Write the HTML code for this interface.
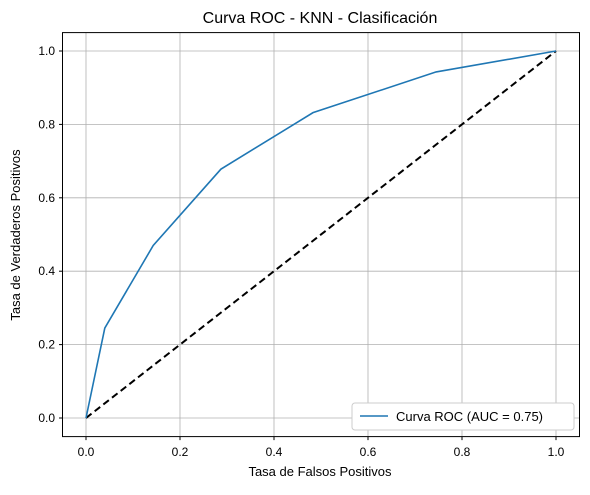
<!DOCTYPE html>
<html><head><meta charset="utf-8"><style>
body{margin:0;background:#fff;}
svg text{font-family:"Liberation Sans","DejaVu Sans",sans-serif;fill:#000;}
</style></head><body>
<svg id="chart" width="590" height="490" xmlns="http://www.w3.org/2000/svg">
<rect width="590" height="490" fill="#fff"/>
<text x="320" y="23" text-anchor="middle" font-size="16">Curva ROC - KNN - Clasificación</text>
<g id="grid"></g>
<g id="ticks"></g>
<line id="diag" stroke="#000" stroke-width="2" stroke-dasharray="7,4"/>
<path id="roc" fill="none" stroke="#1f77b4" stroke-width="1.6"/>
<rect x="62.5" y="32.6" width="517" height="404" fill="none" stroke="#000" stroke-width="1"/>
<text x="320" y="476" text-anchor="middle" font-size="13">Tasa de Falsos Positivos</text>
<text transform="translate(20,235) rotate(-90)" text-anchor="middle" font-size="13">Tasa de Verdaderos Positivos</text>
<g>
<rect x="352" y="403" width="222" height="27" rx="3" fill="#fff" stroke="#ccc" stroke-width="1"/>
<line x1="360" y1="416" x2="388" y2="416" stroke="#1f77b4" stroke-width="1.6"/>
<text x="396" y="421" font-size="13">Curva ROC (AUC = 0.75)</text>
</g>
</svg>
<script>
const fpr=[0,0.04,0.143,0.287,0.483,0.745,1];
const tpr=[0,0.245,0.47,0.678,0.832,0.943,1];
const ticks=[0,0.2,0.4,0.6,0.8,1.0];
const tickLabels=["0.0","0.2","0.4","0.6","0.8","1.0"];
const sx=v=>86+v*470, sy=v=>418-v*367;
const NS="http://www.w3.org/2000/svg";
const grid=document.getElementById('grid'), tk=document.getElementById('ticks');
function mk(tag,attrs,parent){const e=document.createElementNS(NS,tag);for(const k in attrs)e.setAttribute(k,attrs[k]);parent.appendChild(e);return e;}
ticks.forEach((t,i)=>{
  const gx=mk('line',{x1:sx(t),x2:sx(t),y1:32.6,y2:436.6,stroke:'#b0b0b0','stroke-width':0.8},grid);
  
  
  const gy=mk('line',{x1:62.5,x2:579.5,y1:sy(t),y2:sy(t),stroke:'#b0b0b0','stroke-width':0.8},grid);
  
  
  mk('line',{x1:sx(t),x2:sx(t),y1:436.6,y2:440.1,stroke:'#000'},tk);
  mk('line',{x1:59,x2:62.5,y1:sy(t),y2:sy(t),stroke:'#000'},tk);
  const xl=mk('text',{x:sx(t),y:456,'text-anchor':'middle','font-size':12},tk);xl.textContent=tickLabels[i];
  
  
  const yl=mk('text',{x:55,y:sy(t)+4,'text-anchor':'end','font-size':12},tk);yl.textContent=tickLabels[i];
  
  
});
const d=document.getElementById('diag');
d.setAttribute('x1',sx(0));d.setAttribute('y1',sy(0));d.setAttribute('x2',sx(1));d.setAttribute('y2',sy(1));
document.getElementById('roc').setAttribute('d',fpr.map((f,i)=>(i?'L':'M')+sx(f)+','+sy(tpr[i])).join(''));
</script>
</body></html>
